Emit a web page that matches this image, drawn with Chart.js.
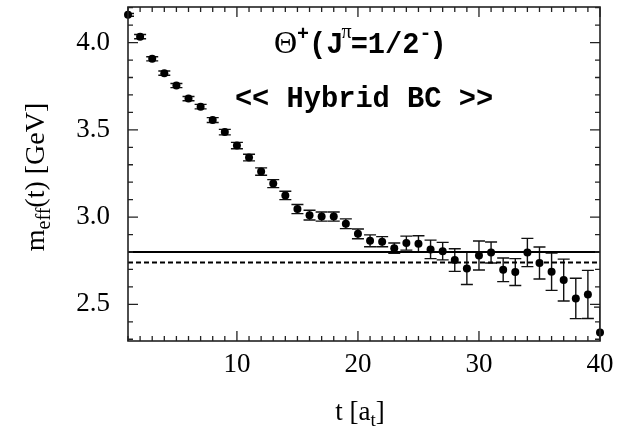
<!DOCTYPE html>
<html><head><meta charset="utf-8">
<script src="https://cdn.jsdelivr.net/npm/chart.js@4/dist/chart.umd.min.js"></script>
<style>html,body{margin:0;padding:0;background:#fff;}#wrap{width:631px;height:427px;}</style>
</head><body><div id="wrap"><canvas id="c" width="631" height="427"></canvas></div>
<script>
// ---- data ----
const tValues = [1,2,3,4,5,6,7,8,9,10,11,12,13,14,15,16,17,18,19,20,21,22,23,24,25,26,27,28,29,30,31,32,33,34,35,36,37,38,39,40];
const mEff = [4.159,4.034,3.907,3.825,3.754,3.679,3.633,3.556,3.487,3.410,
              3.341,3.261,3.192,3.124,3.046,3.011,3.003,3.003,2.962,2.904,
              2.864,2.859,2.822,2.851,2.847,2.815,2.805,2.754,2.706,2.780,
              2.797,2.698,2.685,2.797,2.737,2.687,2.639,2.534,2.557,2.339];
const mErr = [0.008,0.012,0.012,0.012,0.012,0.012,0.013,0.014,0.016,0.018,
              0.019,0.021,0.023,0.024,0.026,0.028,0.026,0.026,0.028,0.028,
              0.034,0.029,0.030,0.040,0.046,0.053,0.050,0.065,0.092,0.083,
              0.060,0.068,0.077,0.081,0.092,0.107,0.120,0.116,0.138,0.145];
const xTickLabels = [10,20,30,40];
const yTickLabels = [2.5,3.0,3.5,4.0];
const fitSolid = 2.80;
const fitDashed = 2.74;
const xRange = [1,40];
const yRange = [2.29,4.204];
const titleLine1Pos = {x: 20.2, y: 3.94};
const titleLine2Pos = {x: 20.5, y: 3.632};

const SERIF = '"Liberation Serif","Times New Roman",serif';
const MONO = '"Liberation Mono","Courier New",monospace';

function drawRich(ctx, segs, cx, by, align) {
  let total = 0;
  segs.forEach(s => { ctx.font = s.font; s.w = ctx.measureText(s.text).width + (s.gap||0); total += s.w; });
  let x = align === 'left' ? cx : cx - total/2;
  ctx.textAlign = 'left'; ctx.textBaseline = 'alphabetic';
  segs.forEach(s => { ctx.font = s.font; ctx.fillText(s.text, x + (s.pre||0), by + (s.dy||0)); x += s.w; });
}

const decor = {
  id: 'decor',
  beforeDatasetsDraw(chart) {
    const {ctx, chartArea: a, scales: {x, y}} = chart;
    ctx.save();
    ctx.beginPath(); ctx.rect(a.left, a.top, a.right - a.left, a.bottom - a.top); ctx.clip();
    ctx.strokeStyle = '#111'; ctx.lineWidth = 1.4;
    const cap = 6;
    tValues.forEach((t, i) => {
      const px = x.getPixelForValue(t);
      const y1 = y.getPixelForValue(mEff[i] + mErr[i]);
      const y2 = y.getPixelForValue(mEff[i] - mErr[i]);
      ctx.beginPath();
      ctx.moveTo(px, y1); ctx.lineTo(px, y2);
      ctx.moveTo(px - cap, y1); ctx.lineTo(px + cap, y1);
      ctx.moveTo(px - cap, y2); ctx.lineTo(px + cap, y2);
      ctx.stroke();
    });
    ctx.restore();
  },
  afterDraw(chart) {
    const {ctx, chartArea: a, scales: {x, y}} = chart;
    ctx.save();
    // ticks
    ctx.strokeStyle = '#222'; ctx.lineWidth = 1.3;
    ctx.beginPath();
    for (let t = xRange[0]; t <= xRange[1]; t++) {
      const px = x.getPixelForValue(t);
      const len = (t % 10 === 0) ? 10 : 5;
      ctx.moveTo(px, a.bottom); ctx.lineTo(px, a.bottom - len);
      ctx.moveTo(px, a.top); ctx.lineTo(px, a.top + len);
    }
    for (let k = Math.ceil(yRange[0]*10); k <= Math.floor(yRange[1]*10); k++) {
      const py = y.getPixelForValue(k/10);
      const len = (k % 5 === 0) ? 10 : 5;
      ctx.moveTo(a.left, py); ctx.lineTo(a.left + len, py);
      ctx.moveTo(a.right, py); ctx.lineTo(a.right - len, py);
    }
    ctx.stroke();
    // frame
    ctx.lineWidth = 1.6; ctx.strokeStyle = '#222';
    ctx.strokeRect(a.left, a.top, a.right - a.left, a.bottom - a.top);
    // axis titles
    ctx.fillStyle = '#000';
    drawRich(ctx, [
      {text: 't [a', font: '27px ' + SERIF},
      {text: 't', font: '19px ' + SERIF, dy: 6},
      {text: ']', font: '27px ' + SERIF}
    ], (a.left + a.right)/2 - 4, 420);
    ctx.save();
    ctx.translate(44, (a.top + a.bottom)/2 + 3);
    ctx.rotate(-Math.PI/2);
    drawRich(ctx, [
      {text: 'm', font: '28px ' + SERIF},
      {text: 'eff', font: '20px ' + SERIF, dy: 6},
      {text: '(t) [GeV]', font: '28px ' + SERIF}
    ], 0, 0);
    ctx.restore();
    // annotations
    const l1x = x.getPixelForValue(titleLine1Pos.x), l1y = y.getPixelForValue(titleLine1Pos.y);
    drawRich(ctx, [
      {text: 'Θ', font: '32px ' + SERIF},
      {text: '+', font: 'bold 20px ' + MONO, dy: -13},
      {text: '(J', font: 'bold 28.7px ' + MONO},
      {text: 'π', font: '20px ' + SERIF, dy: -15, pre: -2, gap: -3},
      {text: '=1/2', font: 'bold 28.7px ' + MONO},
      {text: '-', font: 'bold 20px ' + MONO, dy: -14, gap: -2},
      {text: ')', font: 'bold 28.7px ' + MONO}
    ], l1x, l1y);
    const l2x = x.getPixelForValue(titleLine2Pos.x), l2y = y.getPixelForValue(titleLine2Pos.y);
    drawRich(ctx, [{text: '<< Hybrid BC >>', font: 'bold 28.7px ' + MONO}], l2x, l2y);
    ctx.restore();
  }
};

new Chart(document.getElementById('c'), {
  type: 'scatter',
  data: {
    datasets: [
      {
        data: tValues.map((t, i) => ({x: t, y: mEff[i]})),
        pointRadius: 4, pointHoverRadius: 4,
        backgroundColor: '#000', borderColor: '#000', borderWidth: 0,
        clip: false, order: 0
      },
      {
        type: 'line',
        data: [{x: xRange[0], y: fitSolid}, {x: xRange[1], y: fitSolid}],
        borderColor: '#000', borderWidth: 2, pointRadius: 0, fill: false, order: 1
      },
      {
        type: 'line',
        data: [{x: xRange[0], y: fitDashed}, {x: xRange[1], y: fitDashed}],
        borderColor: '#000', borderWidth: 2, borderDash: [5, 3], pointRadius: 0, fill: false, order: 2
      }
    ]
  },
  options: {
    responsive: false,
    animation: false,
    devicePixelRatio: 1,
    layout: {padding: {top: 7, right: 31, left: 0, bottom: 0}},
    plugins: {legend: {display: false}, tooltip: {enabled: false}},
    scales: {
      x: {
        type: 'linear', min: xRange[0], max: xRange[1],
        afterBuildTicks: s => { s.ticks = xTickLabels.map(v => ({value: v})); },
        afterFit: s => { s.height = 86; s.paddingLeft = 0; s.paddingRight = 0; },
        grid: {display: false, drawTicks: false},
        border: {display: false},
        ticks: {color: '#000', font: {family: SERIF, size: 27}, padding: 8, maxRotation: 0, autoSkip: false,
                callback: v => String(v)}
      },
      y: {
        type: 'linear', min: yRange[0], max: yRange[1],
        afterBuildTicks: s => { s.ticks = yTickLabels.map(v => ({value: v})); },
        afterFit: s => { s.width = 128; s.paddingTop = 0; s.paddingBottom = 0; },
        grid: {display: false, drawTicks: false},
        border: {display: false},
        ticks: {color: '#000', font: {family: SERIF, size: 27}, padding: 18, autoSkip: false,
                callback: v => Number(v).toFixed(1)}
      }
    }
  },
  plugins: [decor]
});
</script>
</body></html>
